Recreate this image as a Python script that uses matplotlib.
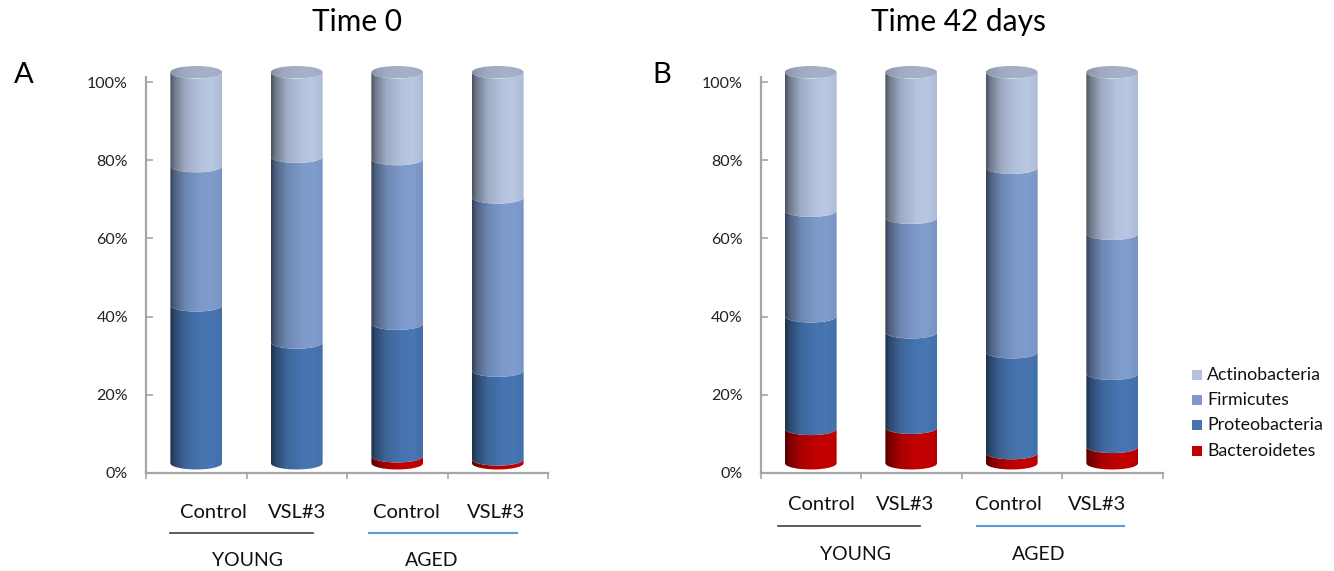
import numpy as np
import matplotlib.pyplot as plt
from matplotlib.patches import Polygon, Ellipse, Rectangle
from matplotlib.lines import Line2D

plt.rcParams['font.family'] = ['Lato', 'DejaVu Sans']

# phylum abundances (%) per group, bottom to top of each stack
groups = ['Control', 'VSL#3', 'Control', 'VSL#3']
phyla = ['Bacteroidetes', 'Proteobacteria', 'Firmicutes', 'Actinobacteria']

bact_t0 = [0.0, 0.0, 1.8, 1.0]
prot_t0 = [40.4, 30.9, 33.9, 22.7]
firm_t0 = [35.6, 47.5, 42.1, 44.3]
acti_t0 = [24.0, 21.6, 22.2, 32.0]

bact_t42 = [8.8, 9.1, 2.6, 4.2]
prot_t42 = [28.8, 24.4, 25.8, 18.7]
firm_t42 = [27.0, 29.3, 47.2, 35.8]
acti_t42 = [35.4, 37.2, 24.4, 41.3]

colors = ['#C00000', '#4674B0', '#7D9ACB', '#B5C3DF']
cap_color = '#A5B0C9'

W, H = 1334, 571
fig = plt.figure(figsize=(W / 100, H / 100), dpi=100)

def px(x, y):
    return x / W, 1 - y / H

def shade(hex_color, n=80, k_pts=(0.42, 0.62, 0.88, 1.0, 1.02, 0.96)):
    # horizontal lighting across a cylinder: dark left rim, bright middle
    rgb = np.array(plt.matplotlib.colors.to_rgb(hex_color))
    t = np.linspace(0, 1, n)
    k = np.interp(t, [0, 0.08, 0.3, 0.6, 0.8, 1.0], k_pts)
    row = np.clip(rgb[None, :] * k[:, None], 0, 1)
    return row[None, :, :]

lift = 2.5   # 3-D projection: stack sits slightly above the floor
ry = 1.6     # half-height of the elliptical rim
bw = 0.515
ytop = 106.0

def cylinder_stack(ax, xc, parts):
    t = np.linspace(-1, 1, 80)
    xs = xc + bw / 2 * t
    front = ry * np.sqrt(1 - t ** 2)
    base = 0.0
    for val, col in zip(parts, colors):
        if val <= 0:
            continue
        lo, hi = base + lift, base + val + lift
        verts = np.concatenate([np.column_stack([xs, lo - front]),
                                np.column_stack([xs[::-1], (hi - front)[::-1]])])
        poly = Polygon(verts, closed=True, facecolor='none', edgecolor='none')
        ax.add_patch(poly)
        im = ax.imshow(shade(col), extent=[xc - bw / 2, xc + bw / 2, lo - ry - 0.2, hi + 0.2],
                       aspect='auto', interpolation='bilinear', zorder=2)
        im.set_clip_path(poly)
        base += val
    # flat top of the cylinder
    cap = Ellipse((xc, base + lift), bw, 2 * ry, facecolor='none', edgecolor='none')
    ax.add_patch(cap)
    im = ax.imshow(shade(cap_color, k_pts=(0.8, 0.88, 0.97, 1.0, 1.0, 0.97)),
                   extent=[xc - bw / 2, xc + bw / 2, base + lift - ry, base + lift + ry],
                   aspect='auto', interpolation='bilinear', zorder=3)
    im.set_clip_path(cap)

def make_panel(left, data):
    ax = fig.add_axes([left / W, (H - 473) / H, 402 / W, ytop * 3.91 / H])
    for i in range(len(groups)):
        cylinder_stack(ax, i, [d[i] for d in data])
    ax.set_xlim(-0.5, 3.5)
    ax.set_ylim(0, ytop)
    for s in ['top', 'right']:
        ax.spines[s].set_visible(False)
    for s in ['left', 'bottom']:
        ax.spines[s].set_color('#A6A6A6')
        ax.spines[s].set_linewidth(1.6)
    ax.spines['left'].set_bounds(0, 101.4)
    ax.set_yticks([0, 20, 40, 60, 80, 100])
    ax.set_yticklabels(['0%', '20%', '40%', '60%', '80%', '100%'])
    ax.tick_params(axis='y', direction='in', length=5, width=1.2, color='#A6A6A6',
                   pad=13, labelsize=11.5, labelcolor='#222222')
    ax.set_xticks([-0.5, 0.5, 1.5, 2.5, 3.5])
    ax.set_xticklabels([])
    ax.tick_params(axis='x', direction='out', length=4, width=1.2, color='#A6A6A6')
    return ax

axA = make_panel(146, [bact_t0, prot_t0, firm_t0, acti_t0])
axB = make_panel(760.5, [bact_t42, prot_t42, firm_t42, acti_t42])

# titles and panel letters
fig.text(*px(357, 22), 'Time 0', ha='center', va='center', fontsize=21.5)
fig.text(*px(958, 22), 'Time 42 days', ha='center', va='center', fontsize=21.5)
fig.text(*px(24, 75), 'A', ha='center', va='center', fontsize=21)
fig.text(*px(662, 75), 'B', ha='center', va='center', fontsize=21)

# group labels under each panel
def group_labels(xs, y_lab, y_line, y_grp, young_line, aged_line, grp_x):
    for x, g in zip(xs, groups):
        fig.text(*px(x, y_lab), g, ha='center', va='center', fontsize=14.5, color='#111111')
    fig.add_artist(Line2D([young_line[0] / W, young_line[1] / W], [1 - y_line / H] * 2,
                          color='#3F3F3F', lw=1.2))
    fig.add_artist(Line2D([aged_line[0] / W, aged_line[1] / W], [1 - y_line / H] * 2,
                          color='#5B9BD5', lw=1.5))
    fig.text(*px(grp_x[0], y_grp), 'YOUNG', ha='center', va='center', fontsize=14, color='#111111')
    fig.text(*px(grp_x[1], y_grp), 'AGED', ha='center', va='center', fontsize=14, color='#111111')

group_labels([213, 297, 406, 496], 512, 533, 561, (170, 313), (369, 517), (248, 432))
group_labels([821, 905, 1008, 1097], 504, 526, 554, (778, 920), (977, 1124), (856, 1039))

# legend, top entry first
for k, (name, col) in enumerate(zip(phyla[::-1], colors[::-1])):
    y = 375 + k * 25.2
    fig.add_artist(Rectangle(((1192) / W, 1 - (y + 5) / H), 10 / W, 10 / H,
                             transform=fig.transFigure, facecolor=col, edgecolor='none'))
    fig.text(*px(1207, y), name, ha='left', va='center', fontsize=12.8, color='#111111')

fig.savefig('out.png', dpi=100)
